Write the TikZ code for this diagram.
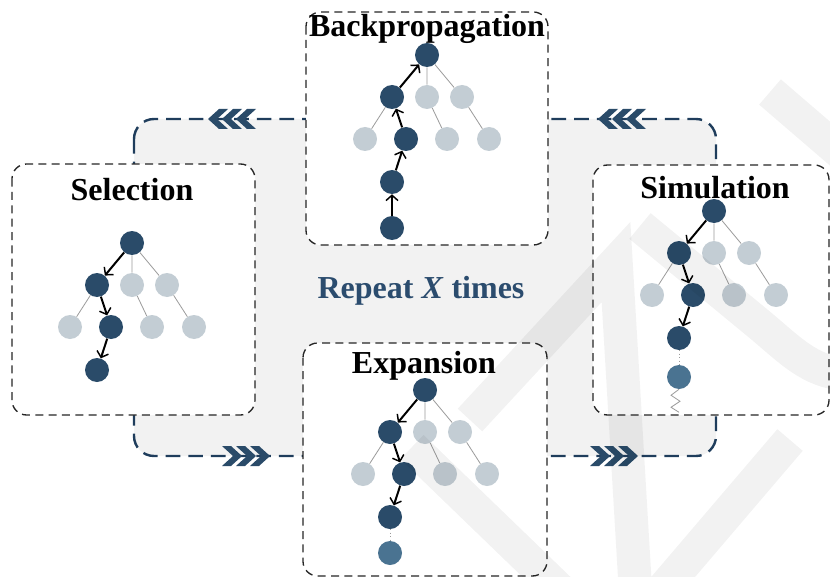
\documentclass[tikz,border=0pt]{standalone}
\usepackage{fontspec}
\setmainfont{Liberation Serif}
\usetikzlibrary{arrows.meta}
\definecolor{navy}{RGB}{42,75,105}
\definecolor{lightn}{RGB}{195,205,212}
\definecolor{midn}{RGB}{74,115,145}
\definecolor{loopc}{RGB}{31,61,92}
\definecolor{loopfill}{RGB}{242,242,242}
\definecolor{edgec}{RGB}{155,155,155}
\definecolor{reptext}{RGB}{43,76,110}
\tikzset{
  dk/.style={circle,fill=navy,minimum size=18pt,inner sep=0pt},
  lt/.style={circle,fill=lightn,minimum size=18pt,inner sep=0pt},
  md/.style={circle,fill=midn,minimum size=18pt,inner sep=0pt},
  thin edge/.style={draw=edgec,line width=0.6pt},
  path arrow/.style={draw=black,line width=1.5pt,-{Straight Barb[length=4pt,width=9pt,line width=1.1pt]}},
  stagebox/.style={draw=black!85,line width=1pt,dash pattern=on 6pt off 4pt,fill=white,rounded corners=11pt},
  title/.style={font=\fontsize{24}{28}\selectfont\bfseries,anchor=base,inner sep=0pt},
  loopline/.style={draw=loopc,line width=1.8pt,dash pattern=on 11pt off 6pt,fill=loopfill,rounded corners=15pt},
  chevs/.pic={
    \foreach \k in {0,1,2}{
      \fill[navy] (\k*14,0) -- ++(11,-10) -- ++(9,0) -- ++(-11,10) -- ++(11,10) -- ++(-9,0) -- cycle;
    }
  },
  watermark/.style={draw=black,draw opacity=0.05,line width=25pt}
}
\newcommand{\mctstree}[3]{%
  \node[dk] (#1r) at (#2,#3) {};
  \node[dk] (#1c1) at (#2-35,#3+42) {};
  \node[lt] (#1c2) at (#2,#3+42) {};
  \node[lt] (#1c3) at (#2+35,#3+42) {};
  \node[lt] (#1g1) at (#2-62,#3+84) {};
  \node[dk] (#1g2) at (#2-21,#3+84) {};
  \node[lt] (#1g3) at (#2+20,#3+84) {};
  \node[lt] (#1g4) at (#2+62,#3+84) {};
  \node[dk] (#1l3) at (#2-35,#3+127) {};
  \draw[thin edge] (#1r)--(#1c2) (#1r)--(#1c3) (#1c1)--(#1g1) (#1c2)--(#1g3) (#1c3)--(#1g4);
}
\begin{document}
\begin{tikzpicture}[x=0.75pt,y=-0.75pt]
\useasboundingbox (0,0) rectangle (830,577);
\clip (0,0) rectangle (830,577);
% loop
\path[loopline] (134,119) rectangle (716,456);
\pic at (208,119) {chevs};
\pic at (598,119) {chevs};
\pic[xscale=-1] at (270,456) {chevs};
\pic[xscale=-1] at (638,456) {chevs};
% boxes
\path[stagebox] (12,164) rectangle (255,415);
\path[stagebox] (306,12) rectangle (548,245);
\path[stagebox] (593,165) rectangle (829,415);
\path[stagebox] (303,343) rectangle (547,576);
% titles
\node[title] (tsel) at (132,200) {Selection};
\node[title] (tbp) at (427,37) {Backpropagation};
\node[title] (tsim) at (715,199) {Simulation};
\node[title] (texp) at (424,373) {Expansion};
\node[title,text=reptext] (trep) at (421,298) {Repeat \textit{X} times};
% selection tree
\mctstree{s}{132}{243}
\draw[path arrow] (sr) -- (sc1);
\draw[path arrow] (sc1) -- (sg2);
\draw[path arrow] (sg2) -- (sl3);
% backprop tree
\mctstree{b}{427}{55}
\node[dk] (bl4) at (392,228) {};
\draw[path arrow] (bl4) -- (bl3);
\draw[path arrow] (bl3) -- (bg2);
\draw[path arrow] (bg2) -- (bc1);
\draw[path arrow] (bc1) -- (br);
% simulation tree
\mctstree{m}{714}{211}
\node[md] (ml4) at (679,377) {};
\draw[path arrow] (mr) -- (mc1);
\draw[path arrow] (mc1) -- (mg2);
\draw[path arrow] (mg2) -- (ml3);
\draw[edgec,line width=0.6pt,dotted] (ml3) -- (ml4);
\draw[edgec,line width=0.6pt] (ml4.south) -- ++(-8,6) -- ++(9,6) -- ++(-9,6) -- ++(8,5);
% expansion tree
\mctstree{e}{425}{390}
\node[md] (el4) at (390,553) {};
\draw[path arrow] (er) -- (ec1);
\draw[path arrow] (ec1) -- (eg2);
\draw[path arrow] (eg2) -- (el3);
\draw[edgec,line width=0.6pt,dotted] (el3) -- (el4);
% watermark
\draw[watermark] (770,92) -- (870,178);
\draw[watermark] (640,226) -- (760,325) .. controls (790,350) and (810,372) .. (845,374);
\draw[watermark] (470,420) -- (616,262) -- (636,600);
\draw[watermark] (412,447) -- (560,590);
\draw[watermark] (790,440) -- (662,590);
\end{tikzpicture}
\end{document}
